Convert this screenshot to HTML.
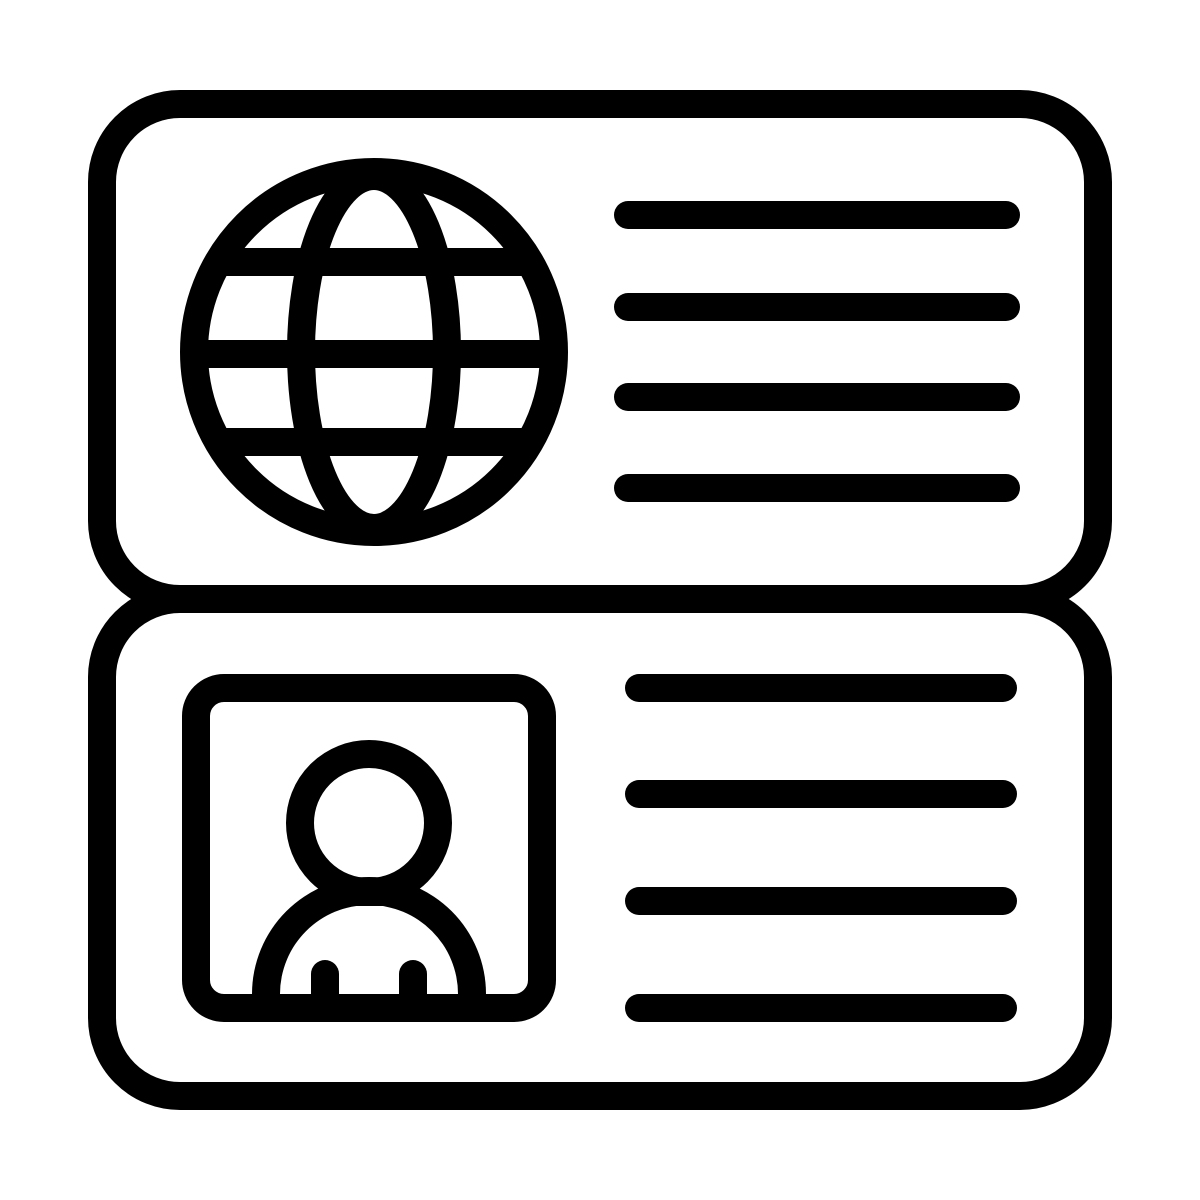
<!DOCTYPE html>
<html><head><style>html,body{margin:0;padding:0;background:#fff}svg{display:block}</style></head>
<body>
<svg width="1200" height="1200" viewBox="0 0 1200 1200" xmlns="http://www.w3.org/2000/svg">
<defs>
<clipPath id="g"><circle cx="374" cy="352" r="190"/></clipPath>
<clipPath id="b"><rect x="0" y="0" width="1200" height="1000"/></clipPath>
</defs>
<g fill="none" stroke="#000" stroke-width="28" stroke-linecap="round">
<rect x="102" y="104" width="996" height="495" rx="78"/>
<rect x="102" y="599" width="996" height="497" rx="78"/>
<g clip-path="url(#g)">
<line x1="150" y1="262" x2="600" y2="262" stroke-linecap="butt"/>
<line x1="150" y1="354" x2="600" y2="354" stroke-linecap="butt"/>
<line x1="150" y1="442" x2="600" y2="442" stroke-linecap="butt"/>
</g>
<circle cx="374" cy="352" r="180"/>
<ellipse cx="374" cy="352" rx="73" ry="176"/>
<line x1="628" y1="215" x2="1006" y2="215"/>
<line x1="628" y1="307" x2="1006" y2="307"/>
<line x1="628" y1="397" x2="1006" y2="397"/>
<line x1="628" y1="488" x2="1006" y2="488"/>
<line x1="639" y1="688" x2="1003" y2="688"/>
<line x1="639" y1="794" x2="1003" y2="794"/>
<line x1="639" y1="901" x2="1003" y2="901"/>
<line x1="639" y1="1008" x2="1003" y2="1008"/>
</g>
<g clip-path="url(#b)">
<circle cx="369" cy="994" r="117" fill="#000"/>
<circle cx="369" cy="994" r="89" fill="#fff"/>
</g>
<rect x="338" y="878" width="62" height="28" fill="#000"/>
<circle cx="369" cy="823" r="69" fill="none" stroke="#000" stroke-width="28"/>
<g fill="none" stroke="#000" stroke-width="28" stroke-linecap="round">
<rect x="196" y="688" width="346" height="320" rx="28"/>
<line x1="325" y1="974" x2="325" y2="1000"/>
<line x1="413" y1="974" x2="413" y2="1000"/>
</g>
</svg>
</body></html>
